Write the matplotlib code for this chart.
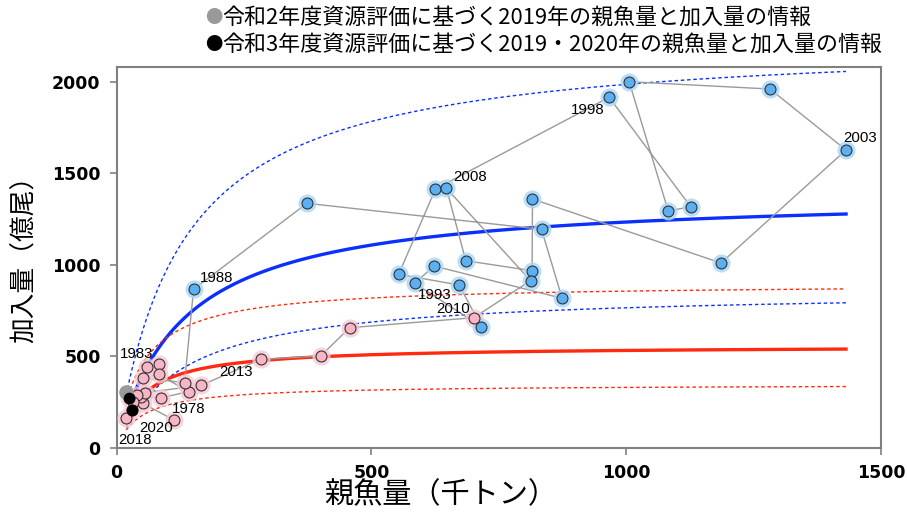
import matplotlib
matplotlib.use('Agg')
import matplotlib.pyplot as plt
import numpy as np

# ---------------- data ----------------
years = list(range(1978, 2021))
ssb = [112.5, 51.6, 48.5, 87.8, 141.4, 59.5, 83.1, 83.1, 51.6, 133.5,         # 1978-1987
       151.2, 373.7, 833.9, 874.3, 623.0, 585.1, 716.1, 672.1, 553.7, 625.8,  # 1988-1997
       966.6, 1126.5, 1082.5, 1005.9, 1282.2, 1431.4, 1186.0, 816.2, 815.4,   # 1998-2006
       685.3, 647.4, 812.3,                                                   # 2007-2009
       701.0, 457.5, 400.5, 282.7, 166.3, 55.0, 39.3, 31.4, 19.0, 23.6, 30.8]   # 2010-2020
rec = [151.4, 242.6, 278.7, 273.2, 306.0, 439.3, 455.7, 401.1, 382.5, 355.2,
       865.6, 1335.5, 1193.4, 816.4, 993.0, 898.4, 661.2, 889.0, 947.5, 1413.7,
       1914.8, 1317.0, 1293.4, 2000.0, 1960.0, 1626.8, 1009.3, 1359.0, 967.2,
       1021.9, 1417.5, 912.6,
       710.4, 655.7, 501.1, 483.0, 341.0, 300.5, 288.0, 250.0, 160.7, 270.0, 206.0]

label_years = [1978, 1983, 1988, 1993, 1998, 2003, 2008, 2010, 2013, 2018, 2020]
label_pos = {1978: (108, 214), 1983: (6, 512), 1988: (163, 927), 1993: (591, 834),
             1998: (891, 1845), 2003: (1425, 1692), 2008: (660, 1479),
             2010: (628, 758), 2013: (202, 416), 2018: (4, 42), 2020: (45, 108)}

high_regime = (1988, 2009)

# previous / current assessment extra points
r2_ssb, r2_rec = [19.0], [306.0]              # R2 assessment, 2019
r3_ssb, r3_rec = [23.6, 30.8], [270.0, 206.0]   # R3 assessment, 2019-2020

# Beverton-Holt style curves (a, b) and uncertainty multipliers
bh_high = (1391.5, 128.3)
bh_low = (557.2, 48.4)
band_up, band_dn = 1.61, 0.62

legend1 = '令和2年度資源評価に基づく2019年の親魚量と加入量の情報'
legend2 = '令和3年度資源評価に基づく2019・2020年の親魚量と加入量の情報'
xlabel = '親魚量（千トン）'
ylabel = '加入量（億尾）'

# ---------------- plot ----------------
plt.rcParams['font.family'] = ['Noto Sans CJK JP', 'DejaVu Sans']
fig = plt.figure(figsize=(9.07, 5.12), dpi=100)
ax = fig.add_axes([116.5/907, 64.3/512, (881-116.5)/907, (447.7-66.7)/512])

S = np.linspace(min(ssb), max(ssb), 400)
def bh(p, s):
    a, b = p
    return a * s / (b + s)

blue_c = '#0a30ff'
red_c = '#ff2a10'
ax.plot(S, bh(bh_high, S), color=blue_c, lw=2.4, zorder=2)
ax.plot(S, bh(bh_high, S) * band_up, color=blue_c, lw=1.0, ls=(0, (2.5, 2)), zorder=2)
ax.plot(S, bh(bh_high, S) * band_dn, color=blue_c, lw=1.0, ls=(0, (2.5, 2)), zorder=2)
ax.plot(S, bh(bh_low, S), color=red_c, lw=2.4, zorder=2)
ax.plot(S, bh(bh_low, S) * band_up, color=red_c, lw=1.0, ls=(0, (2.5, 2)), zorder=2)
ax.plot(S, bh(bh_low, S) * band_dn, color=red_c, lw=1.0, ls=(0, (2.5, 2)), zorder=2)

# trajectory line
ax.plot(ssb, rec, color='#9a9a9a', lw=1.0, zorder=3)

yrs = np.array(years)
s_arr = np.array(ssb)
r_arr = np.array(rec)
hi = (yrs >= high_regime[0]) & (yrs <= high_regime[1])
lo = ~hi
ax.scatter(s_arr[lo], r_arr[lo], s=170, color='#f7c9d4', alpha=0.8, lw=0, zorder=4)
ax.scatter(s_arr[lo], r_arr[lo], s=62, facecolor='#f9b4c6', edgecolor='#333333', lw=0.8, zorder=5)
ax.scatter(s_arr[hi], r_arr[hi], s=170, color='#a9d6f7', alpha=0.8, lw=0, zorder=4)
ax.scatter(s_arr[hi], r_arr[hi], s=62, facecolor='#5ab0f2', edgecolor='#333333', lw=0.8, zorder=5)

ax.scatter(r2_ssb, r2_rec, s=110, color='#999999', lw=0, zorder=6)
ax.scatter(r3_ssb, r3_rec, s=70, color='black', lw=0, zorder=7)

for y in label_years:
    x0, y0 = label_pos[y]
    ax.text(x0, y0, str(y), fontsize=10.8, family=['Liberation Sans', 'DejaVu Sans'],
            ha='left', va='center', zorder=8)

ax.set_xlim(0, 1500)
ax.set_ylim(0, 2082)
ax.set_xticks([0, 500, 1000, 1500])
ax.set_yticks([0, 500, 1000, 1500, 2000])
for sp in ax.spines.values():
    sp.set_color('#808080')
    sp.set_linewidth(1.5)
ax.tick_params(axis='both', colors='#808080', length=5, width=1.2, direction='out',
               labelcolor='black', labelsize=12.5, pad=6.5)
for lab in ax.get_xticklabels() + ax.get_yticklabels():
    lab.set_family(['DejaVu Sans'])
    lab.set_fontweight('bold')

fig.text(441/907, 1 - 495/512, xlabel, fontsize=21, ha='center', va='center')
fig.text(25/907, 1 - 253/512, ylabel, fontsize=18.5, ha='center', va='center', rotation=90)

fig.text(214/907, 1 - 18/512, '●', color='#999999', fontsize=12.5, ha='center', va='center')
fig.text(222/907, 1 - 18/512, legend1, color='black', fontsize=15.8, ha='left', va='center')
fig.text(214/907, 1 - 45/512, '●', color='black', fontsize=12.5, ha='center', va='center')
fig.text(222/907, 1 - 45/512, legend2, color='black', fontsize=15.8, ha='left', va='center')

fig.savefig('out.png', dpi=100)
